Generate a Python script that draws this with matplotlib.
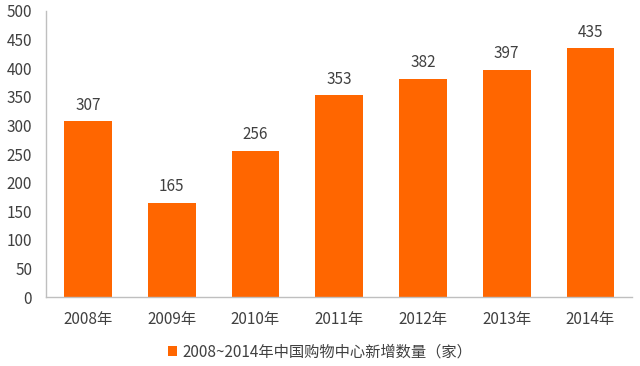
import matplotlib
matplotlib.use("Agg")
import matplotlib.pyplot as plt

plt.rcParams['font.family'] = ['Noto Sans CJK SC', 'DejaVu Sans']

years = ["2008年", "2009年", "2010年", "2011年", "2012年", "2013年", "2014年"]
counts = [307, 165, 256, 353, 382, 397, 435]
series_name = "2008~2014年中国购物中心新增数量（家）"

bar_color = "#FF6600"
text_color = "#404040"

fig = plt.figure(figsize=(6.4, 3.66), dpi=100)
ax = fig.add_axes([0.072, 0.188, 0.916, 0.782])

x = range(len(years))
bars = ax.bar(x, counts, width=0.57, color=bar_color, label=series_name)
for xi, v in zip(x, counts):
    ax.text(xi, v + 13, str(v), ha="center", va="bottom", fontsize=11, color=text_color)

ax.set_xlim(-0.5, len(years) - 0.5)
ax.set_ylim(0, 500)
ax.set_yticks(range(0, 501, 50))
ax.set_xticks(list(x))
ax.set_xticklabels(years)
ax.tick_params(axis="both", length=0, labelsize=11, colors=text_color)
ax.tick_params(axis="x", pad=10)
ax.tick_params(axis="y", pad=10)

for side in ("top", "right"):
    ax.spines[side].set_visible(False)
for side in ("left", "bottom"):
    ax.spines[side].set_color("#BFBFBF")
    ax.spines[side].set_linewidth(1)

leg = fig.legend(loc="center", bbox_to_anchor=(0.5, 0.038), frameon=False,
                 fontsize=11, handlelength=0.6, handleheight=0.6, handletextpad=0.3)
for t in leg.get_texts():
    t.set_color(text_color)

fig.savefig("out.png", dpi=100)
